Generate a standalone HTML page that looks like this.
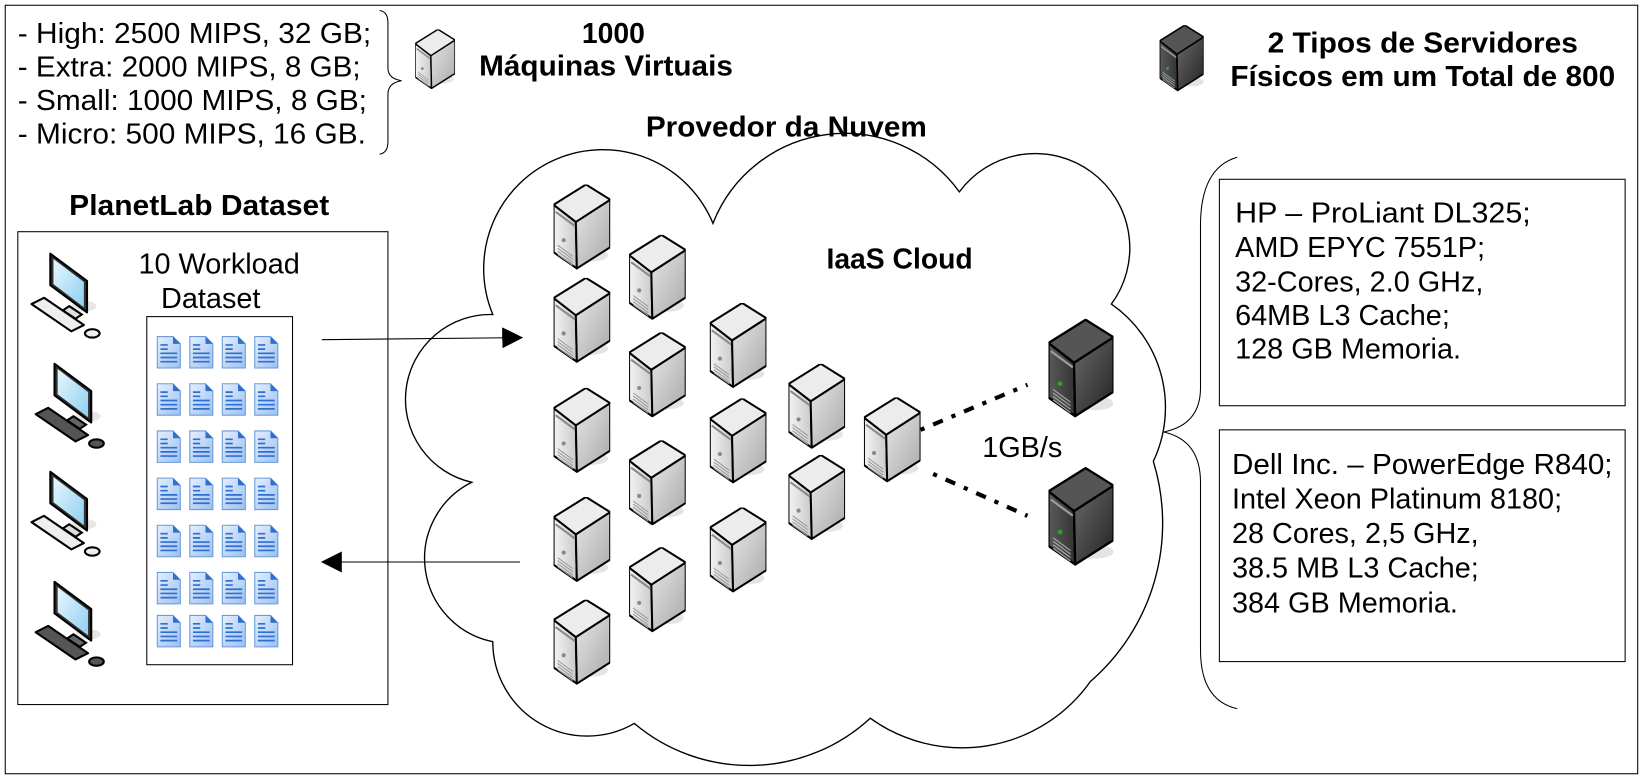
<!DOCTYPE html>
<html><head><meta charset="utf-8"><style>
html,body{margin:0;padding:0;background:#fff;}
svg{display:block;}
text{font-family:"Liberation Sans",sans-serif;fill:#000;}
</style></head><body>
<svg width="1644" height="779" viewBox="0 0 1568 743" preserveAspectRatio="none" xmlns="http://www.w3.org/2000/svg">
<defs>
<linearGradient id="gl" x1="0" y1="0" x2="1" y2="0"><stop offset="0" stop-color="#f4f4f4"/><stop offset="1" stop-color="#c9c9c9"/></linearGradient>
<linearGradient id="gr" x1="0" y1="0" x2="1" y2="1"><stop offset="0" stop-color="#e6e6e6"/><stop offset="1" stop-color="#a8a8a8"/></linearGradient>
<linearGradient id="dl" x1="0" y1="0" x2="1" y2="0"><stop offset="0" stop-color="#5a5a5a"/><stop offset="1" stop-color="#333"/></linearGradient>
<linearGradient id="dr" x1="0" y1="0" x2="1" y2="1"><stop offset="0" stop-color="#6a6a6a"/><stop offset="1" stop-color="#222"/></linearGradient>
<linearGradient id="doc" x1="0" y1="0" x2="1" y2="1"><stop offset="0" stop-color="#e4efff"/><stop offset="1" stop-color="#9cc0f0"/></linearGradient>
<linearGradient id="scr" x1="0" y1="0" x2="1" y2="1"><stop offset="0" stop-color="#e8f6ff"/><stop offset="1" stop-color="#8fd0f0"/></linearGradient>
<symbol id="srv" viewBox="0 0 56 84">
<ellipse cx="38" cy="70" rx="16" ry="6" fill="#e4e4e4"/>
<polygon points="0,20 22,37 23,83 0,67" fill="url(#gl)" stroke="#000" stroke-width="2" stroke-linejoin="round"/>
<polygon points="22,37 56,15 56,62 23,83" fill="url(#gr)" stroke="#000" stroke-width="2" stroke-linejoin="round"/>
<polygon points="0,20 32,0 56,15 22,37" fill="#ececec" stroke="#000" stroke-width="2" stroke-linejoin="round"/>
<line x1="2" y1="27" x2="21" y2="41" stroke="#888" stroke-width="2"/>
<circle cx="10" cy="55" r="2" fill="#888"/>
<g stroke="#999" stroke-width="1"><line x1="4" y1="60" x2="19" y2="71"/><line x1="4" y1="63" x2="19" y2="74"/><line x1="4" y1="66" x2="19" y2="77"/><line x1="4" y1="69" x2="19" y2="80"/></g>
</symbol>
<symbol id="dsrv" viewBox="0 0 56 84">
<ellipse cx="40" cy="72" rx="16" ry="6" fill="#e4e4e4"/>
<polygon points="0,20 22,37 23,83 0,67" fill="url(#dl)" stroke="#000" stroke-width="2" stroke-linejoin="round"/>
<polygon points="22,37 56,15 56,62 23,83" fill="url(#dr)" stroke="#000" stroke-width="2" stroke-linejoin="round"/>
<polygon points="0,20 32,0 56,15 22,37" fill="#555" stroke="#000" stroke-width="2" stroke-linejoin="round"/>
<line x1="2" y1="27" x2="21" y2="41" stroke="#999" stroke-width="2"/>
<circle cx="10" cy="55" r="2" fill="#2a2"/>
<g stroke="#aaa" stroke-width="1"><line x1="4" y1="60" x2="19" y2="71"/><line x1="4" y1="63" x2="19" y2="74"/><line x1="4" y1="66" x2="19" y2="77"/><line x1="4" y1="69" x2="19" y2="80"/></g>
</symbol>
<symbol id="doc1" viewBox="0 0 24 32">
<path d="M1,1 H16 L23,8 V31 H1 Z" fill="url(#doc)" stroke="#6a9ad8" stroke-width="1"/>
<path d="M16,1 V8 H23 Z" fill="#2f6fd0"/>
<g stroke="#2f6fd0" stroke-width="1.6"><line x1="4" y1="9" x2="11" y2="9"/><line x1="4" y1="13" x2="11" y2="13"/><line x1="4" y1="17" x2="20" y2="17"/><line x1="4" y1="21" x2="20" y2="21"/><line x1="4" y1="25" x2="20" y2="25"/></g>
</symbol>
<symbol id="pc" viewBox="0 0 75 85">
<ellipse cx="52" cy="52" rx="12" ry="5" fill="#e6e6e6"/>
<polygon points="20,2 55,28 55,58 20,32" fill="#333" stroke="#000" stroke-width="2" stroke-linejoin="round"/>
<polygon points="23,7 52,29 52,53 23,31" fill="url(#scr)"/>
<polygon points="38,52 50,60 44,64 32,56" fill="#ddd" stroke="#000" stroke-width="2"/>
<polygon points="2,50 14,44 52,70 40,76" fill="#eee" stroke="#000" stroke-width="2" stroke-linejoin="round"/>
<ellipse cx="60" cy="78" rx="7" ry="4" fill="#eee" stroke="#000" stroke-width="2"/>
</symbol>
<symbol id="pcd" viewBox="0 0 75 85">
<ellipse cx="52" cy="52" rx="12" ry="5" fill="#e6e6e6"/>
<polygon points="20,2 55,28 55,58 20,32" fill="#333" stroke="#000" stroke-width="2" stroke-linejoin="round"/>
<polygon points="23,7 52,29 52,53 23,31" fill="url(#scr)"/>
<polygon points="38,52 50,60 44,64 32,56" fill="#666" stroke="#000" stroke-width="2"/>
<polygon points="2,50 14,44 52,70 40,76" fill="#555" stroke="#000" stroke-width="2" stroke-linejoin="round"/>
<ellipse cx="60" cy="78" rx="7" ry="4" fill="#555" stroke="#000" stroke-width="2"/>
</symbol>
<marker id="ah" viewBox="0 0 10 10" refX="9" refY="5" markerWidth="20" markerHeight="20" markerUnits="userSpaceOnUse" orient="auto"><path d="M0,0 L10,5 L0,10 Z" fill="#000"/></marker>
</defs>

<rect x="5" y="5" width="1557" height="733" fill="#fff" stroke="#000" stroke-width="1"/>

<g font-size="27.5">
<text x="17" y="41" textLength="337" lengthAdjust="spacingAndGlyphs">- High: 2500 MIPS, 32 GB;</text>
<text x="17" y="73" textLength="327" lengthAdjust="spacingAndGlyphs">- Extra: 2000 MIPS, 8 GB;</text>
<text x="17" y="105" textLength="333" lengthAdjust="spacingAndGlyphs">- Small: 1000 MIPS, 8 GB;</text>
<text x="17" y="137" textLength="332" lengthAdjust="spacingAndGlyphs">- Micro: 500 MIPS, 16 GB.</text>
</g>
<path d="M362,10 Q370,11 370,22 V65 Q370,75 383,77 Q370,79 370,90 V135 Q370,146 362,147" fill="none" stroke="#000" stroke-width="1"/>

<use href="#srv" x="396" y="28" width="38" height="57"/>
<text x="585" y="41" font-size="27" font-weight="bold" text-anchor="middle">1000</text>
<text x="578" y="72" font-size="27" font-weight="bold" text-anchor="middle" textLength="242" lengthAdjust="spacingAndGlyphs">Máquinas Virtuais</text>

<use href="#dsrv" x="1106" y="24" width="42" height="63"/>
<text x="1357" y="50" font-size="27" font-weight="bold" text-anchor="middle" textLength="296" lengthAdjust="spacingAndGlyphs">2 Tipos de Servidores</text>
<text x="1357" y="82" font-size="27" font-weight="bold" text-anchor="middle" textLength="367" lengthAdjust="spacingAndGlyphs">Físicos em um Total de 800</text>

<text x="750" y="130" font-size="27" font-weight="bold" text-anchor="middle" textLength="268" lengthAdjust="spacingAndGlyphs">Provedor da Nuvem</text>
<text x="190" y="205" font-size="27" font-weight="bold" text-anchor="middle" textLength="248" lengthAdjust="spacingAndGlyphs">PlanetLab Dataset</text>

<rect x="17" y="221" width="353" height="451" fill="none" stroke="#000" stroke-width="1"/>
<text x="209" y="261" font-size="27.5" text-anchor="middle">10 Workload</text>
<text x="201" y="294" font-size="27.5" text-anchor="middle">Dataset</text>
<rect x="140" y="302" width="139" height="332" fill="none" stroke="#000" stroke-width="1"/>
<g>
<use href="#doc1" x="149" y="320" width="24" height="32"/><use href="#doc1" x="180" y="320" width="24" height="32"/><use href="#doc1" x="211" y="320" width="24" height="32"/><use href="#doc1" x="242" y="320" width="24" height="32"/>
<use href="#doc1" x="149" y="365" width="24" height="32"/><use href="#doc1" x="180" y="365" width="24" height="32"/><use href="#doc1" x="211" y="365" width="24" height="32"/><use href="#doc1" x="242" y="365" width="24" height="32"/>
<use href="#doc1" x="149" y="410" width="24" height="32"/><use href="#doc1" x="180" y="410" width="24" height="32"/><use href="#doc1" x="211" y="410" width="24" height="32"/><use href="#doc1" x="242" y="410" width="24" height="32"/>
<use href="#doc1" x="149" y="455" width="24" height="32"/><use href="#doc1" x="180" y="455" width="24" height="32"/><use href="#doc1" x="211" y="455" width="24" height="32"/><use href="#doc1" x="242" y="455" width="24" height="32"/>
<use href="#doc1" x="149" y="500" width="24" height="32"/><use href="#doc1" x="180" y="500" width="24" height="32"/><use href="#doc1" x="211" y="500" width="24" height="32"/><use href="#doc1" x="242" y="500" width="24" height="32"/>
<use href="#doc1" x="149" y="545" width="24" height="32"/><use href="#doc1" x="180" y="545" width="24" height="32"/><use href="#doc1" x="211" y="545" width="24" height="32"/><use href="#doc1" x="242" y="545" width="24" height="32"/>
<use href="#doc1" x="149" y="586" width="24" height="32"/><use href="#doc1" x="180" y="586" width="24" height="32"/><use href="#doc1" x="211" y="586" width="24" height="32"/><use href="#doc1" x="242" y="586" width="24" height="32"/>
</g>
<use href="#pc" x="28" y="240" width="75" height="85"/>
<use href="#pcd" x="32" y="345" width="75" height="85"/>
<use href="#pc" x="28" y="448" width="75" height="85"/>
<use href="#pcd" x="32" y="553" width="75" height="85"/>

<line x1="307" y1="324" x2="497" y2="322" stroke="#000" stroke-width="1" marker-end="url(#ah)"/>
<line x1="496" y1="536" x2="308" y2="536" stroke="#000" stroke-width="1" marker-end="url(#ah)"/>

<path d="M470,300 A110,110 0 1 1 680,213 A135,135 0 0 1 915,183 A88,88 0 0 1 1060,290 A120,120 0 0 1 1100,440 A200,200 0 0 1 1040,650 A150,150 0 0 1 830,685 A170,170 0 0 1 605,690 A90,90 0 0 1 470,612 A81,81 0 0 1 450,460 A81,81 0 0 1 470,300 Z" fill="none" stroke="#000" stroke-width="1.3"/>

<text x="858" y="256" font-size="27" font-weight="bold" text-anchor="middle">IaaS Cloud</text>
<text x="975" y="436" font-size="27.5" text-anchor="middle">1GB/s</text>

<g>
<use href="#srv" x="528" y="176" width="54" height="81"/>
<use href="#srv" x="600" y="224" width="54" height="81"/>
<use href="#srv" x="528" y="265" width="54" height="81"/>
<use href="#srv" x="677" y="289" width="54" height="81"/>
<use href="#srv" x="600" y="317" width="54" height="81"/>
<use href="#srv" x="752" y="347" width="54" height="81"/>
<use href="#srv" x="528" y="370" width="54" height="81"/>
<use href="#srv" x="677" y="380" width="54" height="81"/>
<use href="#srv" x="824" y="379" width="54" height="81"/>
<use href="#srv" x="600" y="420" width="54" height="81"/>
<use href="#srv" x="752" y="434" width="54" height="81"/>
<use href="#srv" x="528" y="474" width="54" height="81"/>
<use href="#srv" x="677" y="484" width="54" height="81"/>
<use href="#srv" x="600" y="522" width="54" height="81"/>
<use href="#srv" x="528" y="572" width="54" height="81"/>
</g>
<use href="#dsrv" x="1000" y="304" width="62" height="95"/>
<use href="#dsrv" x="1000" y="443" width="62" height="100"/>

<g stroke="#000" stroke-width="4" stroke-dasharray="4 9 10 9" fill="none">
<line x1="878" y1="410" x2="980" y2="367"/>
<line x1="890" y1="452" x2="980" y2="492"/>
</g>

<path d="M1180,150 Q1145,160 1145,215 V370 Q1145,405 1110,412 Q1145,420 1145,460 V620 Q1145,668 1180,676" fill="none" stroke="#000" stroke-width="1"/>
<rect x="1163" y="171" width="387" height="216" fill="none" stroke="#000" stroke-width="1"/>
<g font-size="27.5">
<text x="1178" y="212" textLength="282" lengthAdjust="spacingAndGlyphs">HP – ProLiant DL325;</text>
<text x="1178" y="245">AMD EPYC 7551P;</text>
<text x="1178" y="278">32-Cores, 2.0 GHz,</text>
<text x="1178" y="310">64MB L3 Cache;</text>
<text x="1178" y="342">128 GB Memoria.</text>
</g>
<rect x="1163" y="410" width="387" height="221" fill="none" stroke="#000" stroke-width="1"/>
<g font-size="27.5">
<text x="1175" y="452" textLength="363" lengthAdjust="spacingAndGlyphs">Dell Inc. – PowerEdge R840;</text>
<text x="1175" y="485">Intel Xeon Platinum 8180;</text>
<text x="1175" y="518">28 Cores, 2,5 GHz,</text>
<text x="1175" y="551">38.5 MB L3 Cache;</text>
<text x="1175" y="584">384 GB Memoria.</text>
</g>
</svg>
</body></html>
